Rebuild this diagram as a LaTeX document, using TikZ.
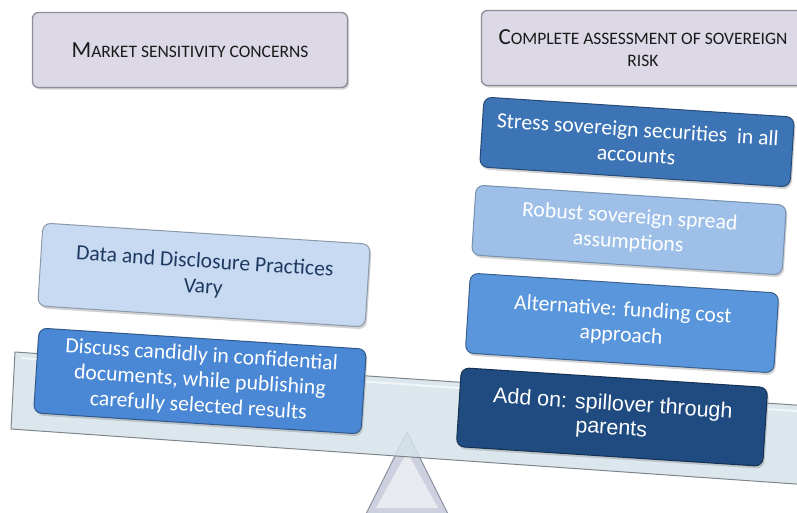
\documentclass[tikz,border=0pt]{standalone}
\usepackage{fontspec}
\setmainfont{Carlito}
\newfontfamily\arialf{Liberation Sans}
\usetikzlibrary{shadows}
\definecolor{hdrfill}{HTML}{DCD8E5}
\definecolor{hdrline}{HTML}{8E8C96}
\definecolor{hdrtext}{HTML}{1A1A1A}
\definecolor{stressfill}{HTML}{3C74B6}
\definecolor{robustfill}{HTML}{9EC0E8}
\definecolor{altfill}{HTML}{5A96DC}
\definecolor{addfill}{HTML}{1F4B80}
\definecolor{datafill}{HTML}{C7DAF1}
\definecolor{datatext}{HTML}{1F3A62}
\definecolor{discfill}{HTML}{4A87D4}
\definecolor{beamfill}{HTML}{D5E3EA}
\definecolor{beamline}{HTML}{7E868C}
\definecolor{trifill}{HTML}{CDD0DE}
\definecolor{triline}{HTML}{8C8F9C}
\newcommand{\fakesc}[2]{{\fontsize{23}{22}\selectfont #1}{\fontsize{17.5}{22}\selectfont #2}}
\tikzset{
  hdrbox/.style={draw=hdrline, line width=1.3pt, fill=hdrfill, rounded corners=6pt,
    drop shadow={shadow xshift=1.5pt, shadow yshift=-2pt, opacity=0.35},
    font=\fontsize{17.5}{22}\selectfont,
    align=center, text=hdrtext, minimum height=75pt, inner sep=2pt},
  tiltbox/.style={rounded corners=8pt, line width=1pt, align=center, rotate=-3.7,
    drop shadow={shadow xshift=1.5pt, shadow yshift=-2.5pt, opacity=0.35},
    font=\fontsize{21.7}{25.5}\selectfont, text=white, inner sep=2pt},
  boxcol/.style={fill=#1, draw=#1!65!black}
}
\begin{document}
\begin{tikzpicture}[x=1pt,y=-1pt]
\useasboundingbox (0,0) rectangle (797,512);
\clip (0,0) rectangle (797,512);
% fulcrum
\draw[fill=trifill, draw=triline, line width=1pt, line join=round]
  (407,432) -- (449,516) -- (365,516) -- cycle;
\fill[white!55!trifill] (407,452) -- (438,508) -- (376,508) -- cycle;
% beam
\draw[fill=beamfill, fill opacity=0.85, draw=beamline, line width=1pt]
  (15,352) -- (810,406) -- (810,485) -- (11,429) -- cycle;
\draw[white, line width=2pt, opacity=0.6]
  (21,358) -- (810,412);
% headers
\node[hdrbox, minimum width=315pt] (market) at (190,50)
  {\fakesc{M}{ARKET SENSITIVITY CONCERNS}};
\node[hdrbox, minimum width=323pt] (complete) at (643,48)
  {\fakesc{C}{OMPLETE ASSESSMENT OF SOVEREIGN}\\RISK};
% right stack
\node[tiltbox, boxcol=stressfill, minimum width=311pt, minimum height=70pt] (stress) at (637,142)
  {Stress sovereign securities\ \ in all\\accounts};
\node[tiltbox, boxcol=robustfill, draw=robustfill!75!black, minimum width=311pt, minimum height=70pt] (robust) at (629,230)
  {Robust sovereign spread\\assumptions};
\node[tiltbox, boxcol=altfill, minimum width=309pt, minimum height=80pt] (alt) at (622,323)
  {Alternative: funding cost\\approach};
\node[tiltbox, boxcol=addfill, minimum width=307pt, minimum height=79pt,
  font=\arialf\fontsize{21.5}{24}\selectfont] (addon) at (612,417)
  {Add on: spillover through\\parents};
% left stack
\node[tiltbox, boxcol=datafill, draw=datafill!70!black, text=datatext, minimum width=328pt, minimum height=83pt] (data) at (204,275)
  {Data and Disclosure Practices\\Vary};
\node[tiltbox, boxcol=discfill, minimum width=328pt, minimum height=85pt] (discuss) at (200,381)
  {Discuss candidly in confidential\\documents, while publishing\\carefully selected results};
\end{tikzpicture}
\end{document}
